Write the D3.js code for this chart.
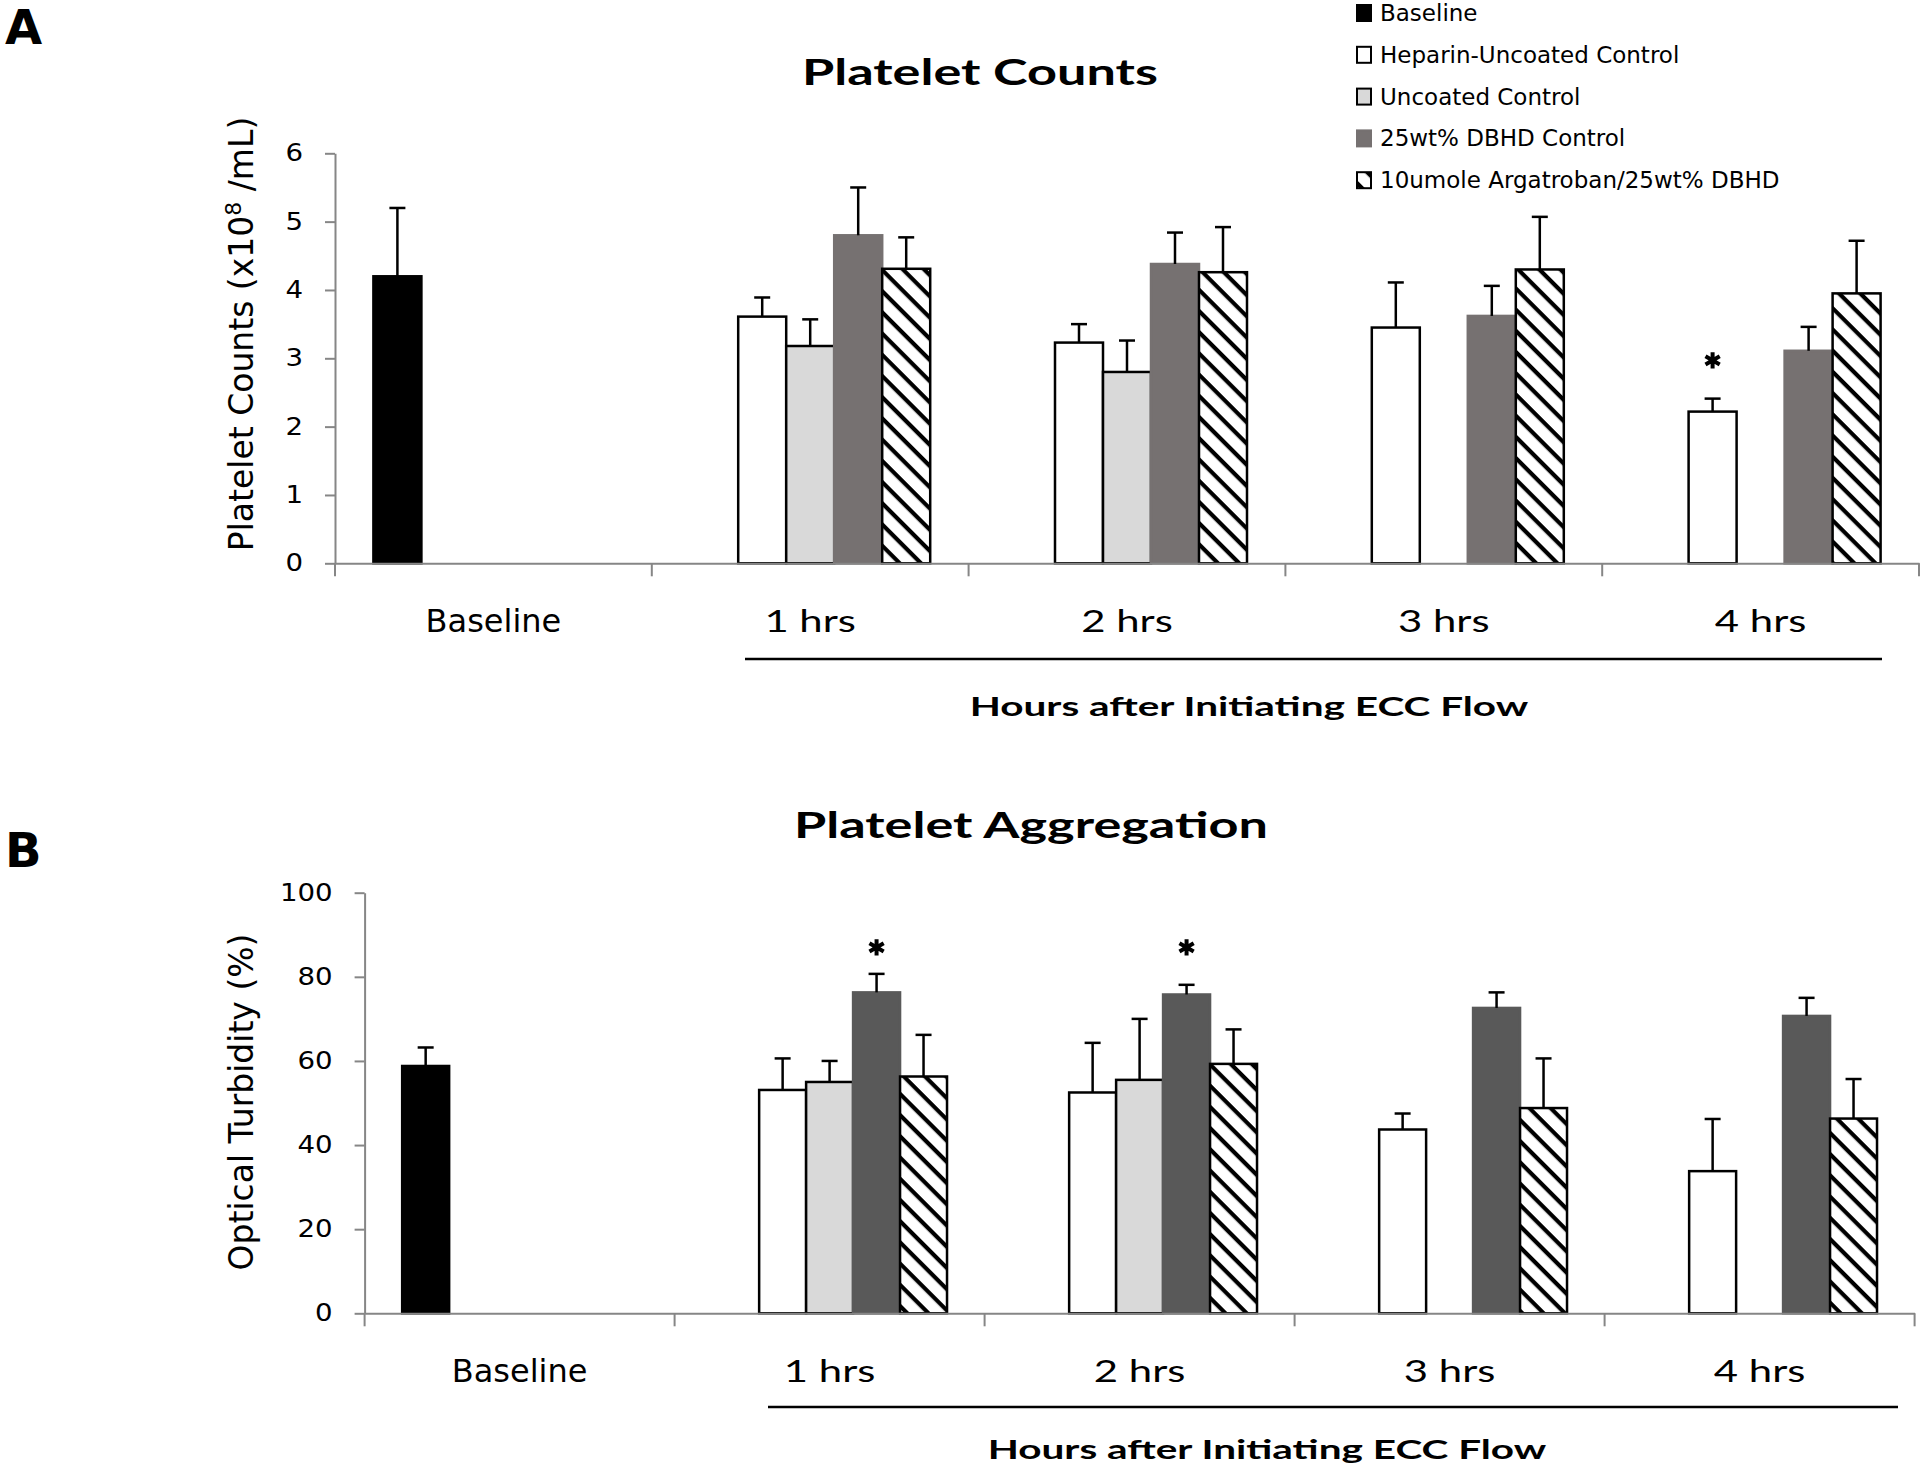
<!DOCTYPE html>
<html>
<head>
<meta charset="utf-8">
<script src="https://cdn.jsdelivr.net/npm/d3@7"></script>
<style>
  body { margin: 0; background: #fff; }
  svg { display: block; }
</style>
</head>
<body>
<div id="chart"></div>
<script>
// ---- data ----
const categories = ["Baseline", "1 hrs", "2 hrs", "3 hrs", "4 hrs"];
const seriesNames = ["Baseline", "Heparin-Uncoated Control", "Uncoated Control",
                     "25wt% DBHD Control", "10umole Argatroban/25wt% DBHD"];

// Panel A - platelet counts (x10^8 /mL), null = no bar
const countsBaseline   = [4.2, null, null, null, null];
const countsHeparin    = [null, 3.61, 3.23, 3.45, 2.22];
const countsUncoated   = [null, 3.18, 2.80, null, null];
const countsDBHD       = [null, 4.80, 4.38, 3.62, 3.11];
const countsArgatroban = [null, 4.31, 4.26, 4.30, 3.95];
// upper error (SD)
const countsBaselineErr   = [1.0, null, null, null, null];
const countsHeparinErr    = [null, 0.28, 0.27, 0.66, 0.19];
const countsUncoatedErr   = [null, 0.39, 0.46, null, null];
const countsDBHDErr       = [null, 0.70, 0.46, 0.44, 0.35];
const countsArgatrobanErr = [null, 0.46, 0.66, 0.77, 0.77];
const countsTicks = [0, 1, 2, 3, 4, 5, 6];
const countsStars = [{category: "4 hrs", series: "Heparin-Uncoated Control", value: 2.97}];

// Panel B - platelet aggregation, optical turbidity (%)
const aggBaseline   = [58.8, null, null, null, null];
const aggHeparin    = [null, 53.1, 52.5, 43.7, 33.8];
const aggUncoated   = [null, 55.0, 55.5, null, null];
const aggDBHD       = [null, 76.3, 75.8, 72.6, 70.7];
const aggArgatroban = [null, 56.3, 59.3, 48.8, 46.3];
const aggBaselineErr   = [4.4, null, null, null, null];
const aggHeparinErr    = [null, 7.5, 11.8, 3.8, 12.4];
const aggUncoatedErr   = [null, 5.0, 14.5, null, null];
const aggDBHDErr       = [null, 4.4, 2.3, 3.7, 4.3];
const aggArgatrobanErr = [null, 9.9, 8.2, 11.8, 9.4];
const aggTicks = [0, 20, 40, 60, 80, 100];
const aggStars = [
  {category: "1 hrs", series: "25wt% DBHD Control", value: 87},
  {category: "2 hrs", series: "25wt% DBHD Control", value: 87}
];

// ---- style ----
const sansWide = "'DejaVu Sans', Verdana, sans-serif";
const sansNarrow = "Lato, 'Open Sans', sans-serif";
const axisGray = "#868686";

const W = 1920, H = 1470;
const svg = d3.select("#chart").append("svg")
    .attr("width", W)
    .attr("height", H);

// diagonal hatch used by the Argatroban series
const defs = svg.append("defs");
const hatch = defs.append("pattern")
    .attr("id", "hatch")
    .attr("patternUnits", "userSpaceOnUse")
    .attr("width", 15)
    .attr("height", 15)
    .attr("patternTransform", "rotate(45)");
hatch.append("rect").attr("width", 15).attr("height", 15).attr("fill", "#fff");
hatch.append("rect").attr("width", 15).attr("height", 4.2).attr("fill", "#000");

// stretch text horizontally (the original figure is widened)
function stretch(sel, k) {
    sel.each(function() {
        const w = this.getComputedTextLength();
        d3.select(this).attr("textLength", w * k).attr("lengthAdjust", "spacingAndGlyphs");
    });
}

function seriesStyle(name, dbhdColor) {
    if (name === "Baseline") return {fill: "#000", stroke: "#000"};
    if (name === "Heparin-Uncoated Control") return {fill: "#fff", stroke: "#000"};
    if (name === "Uncoated Control") return {fill: "#d9d9d9", stroke: "#000"};
    if (name === "25wt% DBHD Control") return {fill: dbhdColor, stroke: dbhdColor};
    return {fill: "url(#hatch)", stroke: "#000"};
}

function drawPanel(p) {
    const g = svg.append("g");

    const x0 = d3.scaleBand()
        .domain(categories)
        .range([p.left, p.right])
        .paddingInner(0)
        .paddingOuter(0);
    const x1 = d3.scaleBand()
        .domain(seriesNames)
        .range([0, x0.bandwidth()])
        .paddingInner(0)
        .paddingOuter(0.8);
    const y = d3.scaleLinear()
        .domain(p.domain)
        .range([p.bottom, p.top]);

    // flatten series into bar rows
    const rows = [];
    seriesNames.forEach((s, i) => {
        categories.forEach((c, j) => {
            const v = p.values[i][j];
            if (v !== null) rows.push({series: s, category: c, value: v, err: p.errors[i][j]});
        });
    });

    // bars
    g.append("g")
        .selectAll("rect")
        .data(rows)
        .enter()
        .append("rect")
        .attr("x", d => x0(d.category) + x1(d.series))
        .attr("y", d => y(d.value))
        .attr("width", x1.bandwidth())
        .attr("height", d => y(0) - y(d.value))
        .attr("fill", d => seriesStyle(d.series, p.dbhdColor).fill)
        .attr("stroke", d => seriesStyle(d.series, p.dbhdColor).stroke)
        .attr("stroke-width", 2.5);

    // error bars (upper only)
    const cx = d => x0(d.category) + x1(d.series) + x1.bandwidth() / 2;
    const eb = g.append("g")
        .selectAll("g")
        .data(rows)
        .enter()
        .append("g")
        .attr("stroke", "#000")
        .attr("stroke-width", 2.5);
    eb.append("line")
        .attr("x1", cx).attr("x2", cx)
        .attr("y1", d => y(d.value))
        .attr("y2", d => y(d.value + d.err));
    eb.append("line")
        .attr("x1", d => cx(d) - 8).attr("x2", d => cx(d) + 8)
        .attr("y1", d => y(d.value + d.err))
        .attr("y2", d => y(d.value + d.err));

    // significance stars
    g.append("g")
        .selectAll("path")
        .data(p.stars)
        .enter()
        .append("path")
        .attr("d", d3.symbol(d3.symbolAsterisk, 190))
        .attr("transform", d => `translate(${cx(d)},${y(d.value)})`)
        .attr("fill", "none")
        .attr("stroke", "#000")
        .attr("stroke-width", 4);

    // Y axis
    const yAxis = g.append("g")
        .attr("transform", `translate(${p.left},0)`)
        .call(d3.axisLeft(y)
            .tickValues(p.ticks)
            .tickFormat(d3.format("d"))
            .tickSize(10)
            .tickSizeOuter(0)
            .tickPadding(22));
    yAxis.select(".domain").attr("stroke", axisGray).attr("stroke-width", 2);
    yAxis.selectAll(".tick line").attr("stroke", axisGray).attr("stroke-width", 2);
    yAxis.selectAll(".tick text")
        .attr("fill", "#000")
        .style("font-family", sansWide)
        .style("font-size", "24px")
        .call(stretch, 1.15);

    // X axis line plus ticks between categories
    const xAxis = g.append("g")
        .attr("transform", `translate(0,${y(0)})`)
        .call(d3.axisBottom(x0).tickSize(0).tickSizeOuter(0).tickFormat(""));
    xAxis.select(".domain").attr("stroke", axisGray).attr("stroke-width", 2);
    const bounds = categories.map(c => x0(c)).concat([x0.range()[1]]);
    xAxis.selectAll(".bound")
        .data(bounds)
        .enter()
        .append("line")
        .attr("class", "bound")
        .attr("x1", d => d).attr("x2", d => d)
        .attr("y1", 0).attr("y2", 13)
        .attr("stroke", axisGray)
        .attr("stroke-width", 2);

    // category labels
    g.append("g")
        .selectAll("text")
        .data(categories)
        .enter()
        .append("text")
        .attr("x", d => x0(d) + x0.bandwidth() / 2)
        .attr("y", y(0) + 69)
        .attr("text-anchor", "middle")
        .style("font-family", d => d === "Baseline" ? sansWide : sansNarrow)
        .style("font-size", d => d === "Baseline" ? "32px" : "31px")
        .text(d => d)
        .filter(d => d !== "Baseline")
        .call(stretch, 1.35);

    // y title
    const yt = g.append("text")
        .attr("transform", `translate(253,${p.yTitleY}) rotate(-90)`)
        .attr("text-anchor", "middle")
        .style("font-family", sansWide)
        .style("font-size", "33px");
    p.yTitle.forEach(part => {
        const ts = yt.append("tspan").text(part.t);
        if (part.sup) ts.attr("baseline-shift", "super").style("font-size", "22px");
    });

    // chart title
    g.append("text")
        .attr("x", p.titleX)
        .attr("y", p.titleY)
        .attr("text-anchor", "middle")
        .style("font-family", sansNarrow)
        .style("font-weight", "bold")
        .style("font-size", "36px")
        .text(p.title)
        .call(stretch, 1.45);

    // bracket line + axis caption
    g.append("line")
        .attr("x1", p.bracket[0]).attr("x2", p.bracket[1])
        .attr("y1", p.bracketY).attr("y2", p.bracketY)
        .attr("stroke", "#000")
        .attr("stroke-width", 2.5);
    g.append("text")
        .attr("x", p.captionX)
        .attr("y", p.captionY)
        .attr("text-anchor", "middle")
        .style("font-family", sansNarrow)
        .style("font-weight", "bold")
        .style("font-size", "27px")
        .text("Hours after Initiating ECC Flow")
        .call(stretch, 1.5);

    // panel letter
    g.append("text")
        .attr("x", 5)
        .attr("y", p.letterY)
        .style("font-family", sansWide)
        .style("font-weight", "bold")
        .style("font-size", "48px")
        .text(p.letter);
}

drawPanel({
    letter: "A", letterY: 44,
    left: 335, right: 1919, top: 153.3, bottom: 563.3,
    domain: [0, 6], ticks: countsTicks,
    values: [countsBaseline, countsHeparin, countsUncoated, countsDBHD, countsArgatroban],
    errors: [countsBaselineErr, countsHeparinErr, countsUncoatedErr, countsDBHDErr, countsArgatrobanErr],
    stars: countsStars,
    dbhdColor: "#767171",
    yTitle: [{t: "Platelet Counts (x10"}, {t: "8", sup: true}, {t: " /mL)"}], yTitleY: 334,
    title: "Platelet Counts", titleX: 980, titleY: 85,
    bracket: [745, 1882], bracketY: 659,
    captionX: 1249, captionY: 716
});

drawPanel({
    letter: "B", letterY: 867,
    left: 364.6, right: 1914.6, top: 892.7, bottom: 1313.3,
    domain: [0, 100], ticks: aggTicks,
    values: [aggBaseline, aggHeparin, aggUncoated, aggDBHD, aggArgatroban],
    errors: [aggBaselineErr, aggHeparinErr, aggUncoatedErr, aggDBHDErr, aggArgatrobanErr],
    stars: aggStars,
    dbhdColor: "#595959",
    yTitle: [{t: "Optical Turbidity (%)"}], yTitleY: 1102,
    title: "Platelet Aggregation", titleX: 1031, titleY: 838,
    bracket: [768, 1898], bracketY: 1407,
    captionX: 1267, captionY: 1459
});

// legend (top right, belongs to panel A)
const legend = svg.append("g")
    .selectAll("g")
    .data(seriesNames)
    .enter()
    .append("g")
    .attr("transform", (d, i) => `translate(1357,${13 + i * 41.8})`);
legend.append("rect")
    .attr("x", 0)
    .attr("y", -8)
    .attr("width", 14)
    .attr("height", 16)
    .attr("fill", d => seriesStyle(d, "#767171").fill)
    .attr("stroke", d => seriesStyle(d, "#767171").stroke)
    .attr("stroke-width", 2);
legend.append("text")
    .attr("x", 23)
    .attr("y", 0)
    .attr("dominant-baseline", "central")
    .style("font-family", sansWide)
    .style("font-size", "23px")
    .text(d => d);
</script>
</body>
</html>
